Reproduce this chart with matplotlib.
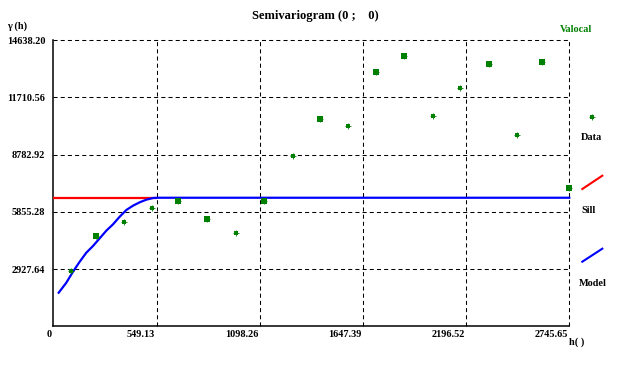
import matplotlib
matplotlib.use("Agg")
import matplotlib.pyplot as plt
from matplotlib.lines import Line2D
from matplotlib.transforms import ScaledTranslation
import numpy as np

lag_h = [95.8, 228.8, 376.2, 525.2, 665.1, 819.4, 973.7, 1122.7, 1275.4, 1420.7,
         1569.7, 1718.7, 1867.6, 2018.8, 2162.4, 2319.9, 2468.9, 2601.9, 2745.6]
gamma = [2842, 4603, 5350, 6067, 6395, 5473, 4787, 6395, 8730, 10593,
         10266, 13000, 13819, 10747, 12180, 13409, 9805, 13512, 7060]
big_pt = [0, 1, 0, 0, 1, 1, 0, 1, 0, 1, 0, 1, 1, 0, 0, 1, 0, 1, 1]

# fitted model curve
model_h = [28.7, 69.2, 104.8, 140.5, 175.6, 211.2, 246.9, 282.0, 317.7, 353.3,
           388.4, 424.1, 459.7, 494.8, 530.5, 557.0, 2745.65]
model_g = [1715, 2227, 2790, 3302, 3763, 4106, 4500, 4890, 5217, 5606,
           5949, 6170, 6344, 6477, 6564, 6577, 6577]

sill = 6577
sill_h = [0, 549.13]

xticks = [0, 549.13, 1098.26, 1647.39, 2196.52, 2745.65]
xlabels = ["0", "549.13", "1098.26", "1647.39", "2196.52", "2745.65"]
yticks = [2927.64, 5855.28, 8782.92, 11710.56, 14638.20]
ylabels = ["2927.64", "5855.28", "8782.92", "11710.56", "14638.20"]

W, H = 622, 366
font = "Liberation Serif"
fs = 7.4
green = "#008000"

fig = plt.figure(figsize=(W / 100, H / 100), dpi=100)
ax = fig.add_axes([53.3 / W, 1 - 326.2 / H, 516 / W, 285.9 / H])
ax.set_xlim(0, 2745.65)
ax.set_ylim(0, 14638.20)

# grid, dashed incl. top and right border
dash = (0, (3.9, 3))
for x in xticks[1:]:
    ax.axvline(x, color="black", lw=0.75, ls=dash, clip_on=False, zorder=1)
for y in yticks:
    ax.axhline(y, color="black", lw=0.75, ls=dash, clip_on=False, zorder=1)

for s in ["top", "right"]:
    ax.spines[s].set_visible(False)
for s in ["left", "bottom"]:
    ax.spines[s].set_linewidth(1.1)

ax.set_xticks(xticks)
ax.set_xticklabels(xlabels, fontfamily=font, fontweight="bold", fontsize=fs, ha="right")
ax.set_yticks(yticks)
ax.set_yticklabels(ylabels, fontfamily=font, fontweight="bold", fontsize=fs)
ax.tick_params(axis="x", length=0, pad=2.5)
ax.tick_params(axis="y", length=0, pad=5.8)
shift = ScaledTranslation(-1.3 / 100, 0, fig.dpi_scale_trans)
for lab in ax.get_xticklabels():
    lab.set_transform(lab.get_transform() + shift)

# sill and model
ax.plot(sill_h, [sill, sill], color="#ff0000", lw=1.6, zorder=3, solid_capstyle="butt")
ax.plot(model_h, model_g, color="#0000ff", lw=1.6, zorder=4, clip_on=False)

# data points
for h, g, b in zip(lag_h, gamma, big_pt):
    ms = 4.0 if b else 3.2
    ax.plot(h, g, "s", color=green, ms=ms, mew=0, zorder=5, clip_on=False)
    ax.plot(h, g, "+", color=green, ms=ms + 1.0, mew=0.6, zorder=5, clip_on=False)

# texts
def fx(px):
    return px / W

def fy(py):
    return 1 - py / H

tfont = dict(family=font, weight="bold")
fig.text(fx(315), fy(16), "Semivariogram (0 ;    0)", fontsize=9, ha="center", va="center", **tfont)
fig.text(fx(7.3), fy(26), "\u03b3 (h)", fontsize=fs, ha="left", va="center", **tfont)
fig.text(fx(576), fy(29.5), "Valocal", fontsize=fs, ha="center", va="center", color=green, **tfont)
fig.text(fx(569.3), fy(342.5), "h( )", fontsize=fs, ha="left", va="center", **tfont)

# legend at right
fig.add_artist(Line2D([fx(592.3)], [fy(116.7)], marker="s", color=green, ms=3.3, mew=0,
                      transform=fig.transFigure))
fig.add_artist(Line2D([fx(592.3)], [fy(116.7)], marker="+", color=green, ms=4.3, mew=0.6,
                      transform=fig.transFigure))
fig.text(fx(591.7), fy(137.5), "Data", fontsize=fs, ha="center", va="center", **tfont)
fig.add_artist(Line2D([fx(582.3), fx(602.3)], [fy(189), fy(175.7)], color="#ff0000", lw=1.5,
                      transform=fig.transFigure))
fig.text(fx(588.7), fy(210.3), "Sill", fontsize=fs, ha="center", va="center", **tfont)
fig.add_artist(Line2D([fx(582.3), fx(602.3)], [fy(261.7), fy(248.7)], color="#0000ff", lw=1.5,
                      transform=fig.transFigure))
fig.text(fx(592.3), fy(284), "Model", fontsize=fs, ha="center", va="center", **tfont)

fig.savefig("out.png", dpi=100)
